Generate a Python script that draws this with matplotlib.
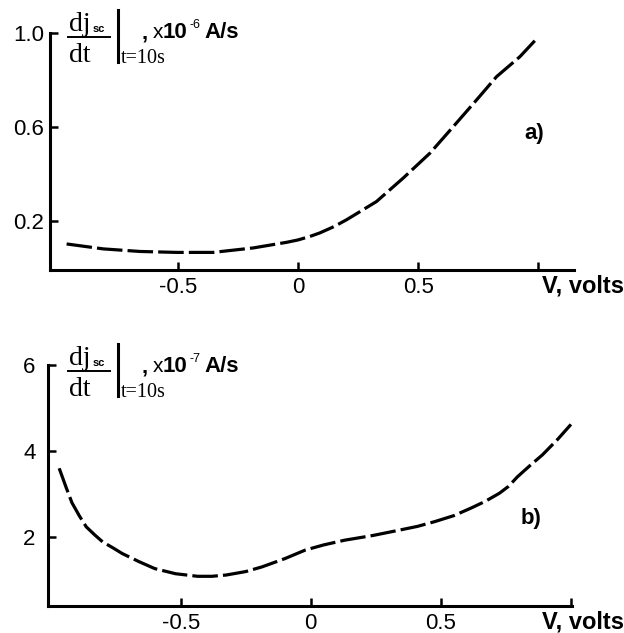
import matplotlib.pyplot as plt
from matplotlib.lines import Line2D

# ---- data ----
# panel a): dj/dt at t=10s, x1e-6 A/s
v_a = [-0.962, -0.81, -0.657, -0.504, -0.353, -0.186, -0.047, 0.0, 0.05, 0.091,
       0.15, 0.202, 0.26, 0.327, 0.438, 0.549, 0.646, 0.743, 0.826, 0.923, 0.985]
j_a = [0.101, 0.080, 0.069, 0.065, 0.065, 0.084, 0.108, 0.118, 0.133, 0.148,
       0.175, 0.204, 0.24, 0.282, 0.382, 0.488, 0.601, 0.715, 0.814, 0.899, 0.967]

# panel b): dj/dt at t=10s, x1e-7 A/s
v_b = [-0.967, -0.94, -0.918, -0.89, -0.863, -0.83, -0.80, -0.76, -0.725, -0.66,
       -0.600, -0.52, -0.435, -0.38, -0.325, -0.25, -0.187, -0.10, -0.021, 0.05,
       0.131, 0.24, 0.338, 0.41, 0.476, 0.55, 0.614, 0.67, 0.725, 0.76, 0.794,
       0.84, 0.89, 0.95, 1.0]
j_b = [3.60, 3.15, 2.80, 2.50, 2.24, 2.05, 1.89, 1.75, 1.62, 1.43,
       1.27, 1.15, 1.09, 1.09, 1.12, 1.20, 1.31, 1.50, 1.70, 1.82,
       1.93, 2.04, 2.16, 2.25, 2.36, 2.50, 2.67, 2.83, 3.02, 3.18, 3.40,
       3.65, 3.91, 4.28, 4.62]

xticks = [-0.5, 0, 0.5, 1.0]
xtick_labels = ["-0.5", "0", "0.5", ""]
yticks_a = [0.2, 0.6, 1.0]
yticks_b = [2, 4, 6]

W, H = 624, 633
SANS = "Liberation Sans"
SERIF = "Liberation Serif"

fig = plt.figure(figsize=(W / 100, H / 100), dpi=100)


def px(x, y):
    # pixel (from top-left) -> figure fraction
    return x / W, 1 - y / H


def style_axes(ax, ypad=4):
    for s in ["top", "right"]:
        ax.spines[s].set_visible(False)
    for s in ["left", "bottom"]:
        ax.spines[s].set_linewidth(2.2)
    ax.tick_params(direction="in", length=6, width=1.8, labelsize=16, pad=5)
    ax.tick_params(axis="y", pad=ypad)
    for lab in ax.get_xticklabels() + ax.get_yticklabels():
        lab.set_fontfamily(SANS)


def deriv_label(y0, expo):
    # fraction dj_sc/dt with evaluation bar, then the unit; y0 = fraction line (px)
    kw = dict(transform=fig.transFigure, va="baseline", ha="left")
    fig.text(*px(69, y0 - 6), "dj", fontsize=20, family=SERIF, **kw)
    fig.text(*px(93, y0 - 5), "sc", fontsize=8, family=SANS, weight="bold", **kw)
    fig.add_artist(Line2D([68 / W, 110 / W], [1 - y0 / H] * 2, lw=1.4,
                          color="black", transform=fig.transFigure))
    fig.text(*px(69, y0 + 25), "dt", fontsize=20, family=SERIF, **kw)
    fig.add_artist(Line2D([118 / W] * 2, [1 - (y0 - 27) / H, 1 - (y0 + 25) / H],
                          lw=2.2, color="black", transform=fig.transFigure))
    fig.text(*px(121, y0 + 26), "t=10s", fontsize=14.5, family=SERIF, **kw)
    fig.text(*px(142, y0 + 1), ",", fontsize=16, family=SANS, weight="bold", **kw)
    fig.text(*px(153, y0 + 1), "x", fontsize=15, family=SANS, **kw)
    fig.text(*px(163, y0 + 1), "10", fontsize=16, family=SANS, weight="bold", **kw)
    fig.text(*px(190, y0 - 9), expo, fontsize=9, family=SANS, **kw)
    fig.text(*px(204, y0 + 1), "A/s", fontsize=16, family=SANS, weight="bold", **kw)


dash = dict(color="black", lw=2.3, dashes=(8, 1.6), solid_capstyle="butt",
            dash_capstyle="butt", solid_joinstyle="round")

# ---- panel a ----
ax1 = fig.add_axes([50 / W, 1 - 270 / H, 524 / W, 237 / H])
ax1.plot(v_a, j_a, **dash)
ax1.set_xlim(-1.031, 1.148)
ax1.set_ylim(-0.01, 1.0)
ax1.set_xticks(xticks)
ax1.set_xticklabels(xtick_labels)
ax1.set_yticks(yticks_a)
ax1.set_yticklabels(["0.2", "0.6", "1.0"])
style_axes(ax1)
fig.text(*px(624, 292), "V, volts", fontsize=17, family=SANS, weight="bold",
         ha="right", va="baseline")
fig.text(*px(524, 139), "a)", fontsize=16, family=SANS, weight="bold",
         ha="left", va="baseline")
deriv_label(37, "-6")

# ---- panel b ----
ax2 = fig.add_axes([48 / W, 1 - 606 / H, 524 / W, 241 / H])
ax2.plot(v_b, j_b, **dash)
ax2.set_xlim(-1.01, 1.004)
ax2.set_ylim(0.4, 6.0)
ax2.set_xticks(xticks)
ax2.set_xticklabels(xtick_labels)
ax2.set_yticks(yticks_b)
ax2.set_yticklabels(["2", "4", "6"])
style_axes(ax2, ypad=9)
fig.text(*px(624, 628), "V, volts", fontsize=17, family=SANS, weight="bold",
         ha="right", va="baseline")
fig.text(*px(521, 524), "b)", fontsize=16, family=SANS, weight="bold",
         ha="left", va="baseline")
deriv_label(371, "-7")

fig.savefig("out.png", dpi=100)
